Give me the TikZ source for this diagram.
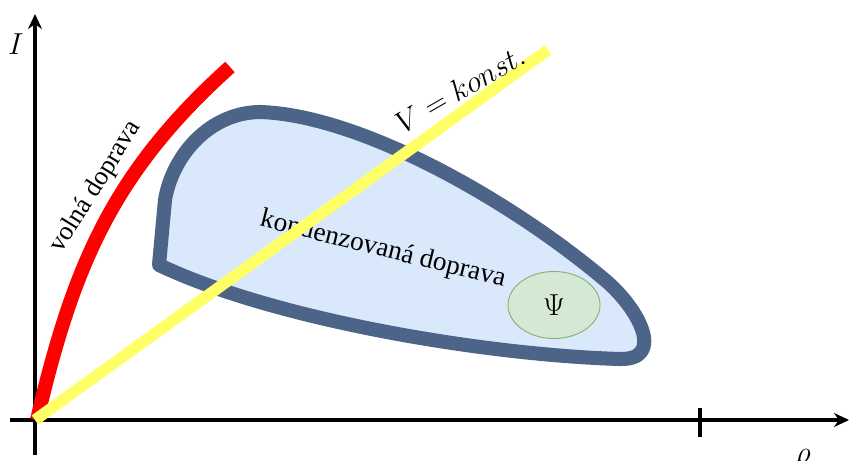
\documentclass[tikz,border=0pt]{standalone}
\usepackage{fontspec}
\setmainfont{Liberation Serif}
\usetikzlibrary{arrows.meta,shapes.geometric}
\definecolor{blobline}{HTML}{4D6489}
\definecolor{blobfill}{HTML}{DAE8FC}
\definecolor{psifill}{HTML}{D5E8D4}
\definecolor{psiline}{HTML}{82B366}
\definecolor{konstyellow}{HTML}{FFFF66}
\tikzset{
  axis/.style={line width=2pt,-{Stealth[length=0.3cm,width=0.28cm]}},
  label/.style={font=\fontsize{15.5}{17}\selectfont,inner sep=1pt}
}
\begin{document}
\begin{tikzpicture}
  \useasboundingbox (-0.7,-0.8) rectangle (16.3,8.4);
  \draw[axis] (-0.5,0) -- (16.28,0);
  \draw[axis] (0,-0.7) -- (0,8.12);
  \draw[line width=2pt] (13.3,-0.34) -- (13.3,0.24);
  \node[font=\fontsize{18}{20}\selectfont] (I) at (-0.38,7.52) {$I$};
  \node[font=\fontsize{18}{20}\selectfont] (rho) at (15.36,-0.78) {$\rho$};

  % kondenzovana doprava
  \draw[line width=8pt,blobline,fill=blobfill,line join=round]
    (2.48,3.1) -- (2.6,4.4) .. controls (2.75,5.3) and (3.5,6.15) .. (4.5,6.16)
    .. controls (6.5,6.1) and (9.5,4.4) .. (11.4,2.8)
    .. controls (12.1,2.21) and (12.6,1.2) .. (11.7,1.22)
    .. controls (9.0,1.3) and (4.8,2.0) .. cycle;
  \node[label,rotate=-14] (kond) at (6.96,3.4) {kondenzovaná doprava};
  \node[ellipse,draw=psiline,fill=psifill,line width=0.5pt,minimum width=1.84cm,minimum height=1.34cm,inner sep=0pt] (psi) at (10.38,2.3) {\fontsize{16}{18}\selectfont$\Psi$};

  % volna doprava
  \draw[red,line width=8pt] (0.04,0) .. controls (0.76,3.07) and (1.55,4.95) .. (3.9,7.06);
  \node[label,rotate=58,font=\fontsize{15}{17}\selectfont] (volna) at (1.22,4.66) {volná doprava};

  % V = konst.
  \draw[konstyellow,line width=6.5pt] (0,0) -- (10.26,7.4);
  \node[label,rotate=30,font=\fontsize{17}{19}\selectfont] (konst) at (8.5,6.62) {$V = konst.$};
\end{tikzpicture}
\end{document}
